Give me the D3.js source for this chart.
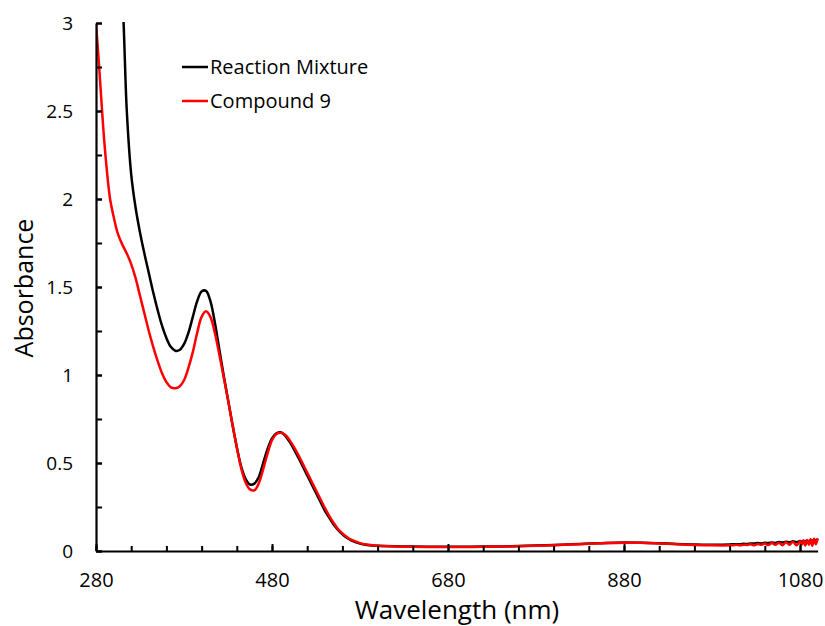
<!DOCTYPE html>
<html>
<head>
<meta charset="utf-8">
<script src="https://cdn.jsdelivr.net/npm/d3@7"></script>
<style>
  html, body { margin: 0; padding: 0; background: #fff; }
  svg { display: block; font-family: "Open Sans", "Noto Sans", sans-serif; }
</style>
</head>
<body>
<svg id="chart" width="825" height="626"></svg>
<script>
// ---------------- data ----------------
const wavelengths = [280, 284, 288, 292, 296, 300, 305, 310, 315, 320, 325, 330, 335, 340, 345, 350, 355, 360, 365, 370,
  375, 380, 385, 390, 395, 400, 405, 410, 415, 420, 425, 430, 435, 440, 445, 450, 455, 460, 465, 470,
  475, 480, 485, 490, 495, 500, 505, 510, 515, 520, 525, 530, 535, 540, 545, 550, 555, 560, 565, 570,
  580, 590, 600, 620, 640, 660, 680, 700, 720, 740, 760, 780, 800, 820, 840, 860, 880, 900, 920, 940,
  960, 980, 1000];

const reactionMixture = [5.2, 4.9, 4.6, 4.3, 4.0, 3.75, 3.45, 3.15, 2.5, 2.14, 1.95, 1.81, 1.69, 1.58, 1.47, 1.37, 1.28, 1.21, 1.16, 1.138,
  1.142, 1.175, 1.24, 1.33, 1.42, 1.475, 1.478, 1.42, 1.3, 1.15, 1.0, 0.86, 0.72, 0.59, 0.48, 0.41, 0.378, 0.383, 0.42, 0.5,
  0.58, 0.64, 0.668, 0.675, 0.655, 0.62, 0.578, 0.53, 0.48, 0.43, 0.38, 0.33, 0.28, 0.23, 0.19, 0.15, 0.12, 0.095, 0.075, 0.06,
  0.042, 0.033, 0.03, 0.027, 0.025, 0.024, 0.024, 0.024, 0.025, 0.026, 0.028, 0.031, 0.034, 0.038, 0.042, 0.046, 0.048, 0.047, 0.044, 0.04,
  0.037, 0.036, 0.037];

const compound9 = [3.0, 2.72, 2.42, 2.18, 2.0, 1.9, 1.8, 1.74, 1.69, 1.63, 1.55, 1.45, 1.35, 1.25, 1.16, 1.08, 1.01, 0.96, 0.93, 0.925,
  0.935, 0.97, 1.04, 1.13, 1.24, 1.33, 1.362, 1.33, 1.24, 1.12, 0.99, 0.86, 0.72, 0.59, 0.47, 0.39, 0.35, 0.345, 0.385, 0.465,
  0.555, 0.63, 0.665, 0.672, 0.66, 0.63, 0.59, 0.545, 0.495, 0.445, 0.395, 0.345, 0.295, 0.245, 0.2, 0.16, 0.125, 0.1, 0.08, 0.064,
  0.045, 0.035, 0.03, 0.026, 0.024, 0.023, 0.023, 0.023, 0.024, 0.025, 0.027, 0.03, 0.033, 0.037, 0.041, 0.045, 0.047, 0.047, 0.043, 0.038,
  0.034, 0.032, 0.032];

const tailWavelengths = [1004, 1008, 1012, 1016, 1020, 1024, 1028, 1032, 1036, 1040, 1044, 1048, 1052, 1056, 1060, 1064, 1068, 1072, 1076, 1080,
  1082, 1084, 1086, 1088, 1090, 1092, 1094, 1096, 1098, 1100];

const reactionTail = [0.038, 0.039, 0.038, 0.041, 0.04, 0.043, 0.042, 0.045, 0.043, 0.047, 0.045, 0.049, 0.046, 0.051, 0.048, 0.053, 0.049, 0.055, 0.05, 0.057,
  0.051, 0.058, 0.052, 0.06, 0.053, 0.062, 0.055, 0.066, 0.056, 0.07];

const compoundTail = [0.033, 0.035, 0.032, 0.036, 0.034, 0.038, 0.033, 0.04, 0.035, 0.042, 0.034, 0.045, 0.036, 0.047, 0.033, 0.05, 0.036, 0.053, 0.032, 0.056,
  0.035, 0.06, 0.031, 0.063, 0.036, 0.067, 0.03, 0.069, 0.038, 0.072];

const xTickLabels = [280, 480, 680, 880, 1080];
const xMinorTicks = d3.range(280, 1100, 40);
const yTickLabels = [0, 0.5, 1, 1.5, 2, 2.5, 3];
const yMinorTicks = d3.range(0, 3.01, 0.25);

const seriesNames = ["Reaction Mixture", "Compound 9"];
const seriesColors = ["#000000", "#ff0000"];

// ---------------- chart ----------------
const svg = d3.select("#chart");
const plotLeft = 96, plotRight = 817.6, plotTop = 23, plotBottom = 551;

const x = d3.scaleLinear().domain([280, 1100]).range([plotLeft, plotRight]);
const y = d3.scaleLinear().domain([0, 3]).range([plotBottom, plotTop]);

svg.append("defs").append("clipPath").attr("id", "plotClip")
  .append("rect").attr("x", plotLeft).attr("y", plotTop - 1)
  .attr("width", plotRight - plotLeft + 2).attr("height", plotBottom - plotTop + 1);

const makeSeries = (vals, tail) =>
  wavelengths.map((w, i) => [w, vals[i]]).concat(tailWavelengths.map((w, i) => [w, tail[i]]));

const series = [makeSeries(reactionMixture, reactionTail), makeSeries(compound9, compoundTail)];

const line = d3.line()
  .x(d => x(d[0]))
  .y(d => y(d[1]))
  .curve(d3.curveCatmullRom.alpha(0.5));

const plot = svg.append("g").attr("clip-path", "url(#plotClip)");
series.forEach((s, i) => {
  plot.append("path")
    .datum(s)
    .attr("fill", "none")
    .attr("stroke", seriesColors[i])
    .attr("stroke-width", 2.5)
    .attr("stroke-linejoin", "round")
    .attr("d", line);
});

// x axis: minor ticks
svg.append("g")
  .attr("transform", `translate(0,${plotBottom})`)
  .call(d3.axisBottom(x).tickValues(xMinorTicks).tickSize(-5).tickSizeOuter(0).tickFormat(""))
  .call(g => g.select(".domain").remove())
  .call(g => g.selectAll(".tick line").attr("stroke", "#000").attr("stroke-width", 2));

// x axis: major ticks with labels
svg.append("g")
  .attr("transform", `translate(0,${plotBottom})`)
  .call(d3.axisBottom(x).tickValues(xTickLabels).tickSize(-7).tickSizeOuter(0).tickPadding(22).tickFormat(d3.format("d")))
  .call(g => g.select(".domain").attr("stroke", "#000").attr("stroke-width", 2.2))
  .call(g => g.selectAll(".tick line").attr("stroke", "#000").attr("stroke-width", 2))
  .call(g => g.selectAll(".tick text").attr("fill", "#000").attr("font-size", 20)
      .attr("font-family", "'Open Sans', 'Noto Sans', sans-serif"));

// y axis: minor ticks
svg.append("g")
  .attr("transform", `translate(${plotLeft},0)`)
  .call(d3.axisLeft(y).tickValues(yMinorTicks).tickSize(-6).tickSizeOuter(0).tickFormat(""))
  .call(g => g.select(".domain").remove())
  .call(g => g.selectAll(".tick line").attr("stroke", "#000").attr("stroke-width", 2));

// y axis: labels
svg.append("g")
  .attr("transform", `translate(${plotLeft},0)`)
  .call(d3.axisLeft(y).tickValues(yTickLabels).tickSize(-6).tickSizeOuter(0).tickPadding(23).tickFormat(d3.format("")))
  .call(g => g.select(".domain").attr("stroke", "#000").attr("stroke-width", 2.2))
  .call(g => g.selectAll(".tick line").attr("stroke", "#000").attr("stroke-width", 2))
  .call(g => g.selectAll(".tick text").attr("fill", "#000").attr("font-size", 19)
      .attr("font-family", "'Open Sans', 'Noto Sans', sans-serif"));

// axis titles
svg.append("text")
  .attr("x", 457).attr("y", 619)
  .attr("text-anchor", "middle")
  .attr("font-size", 26)
  .attr("fill", "#000")
  .text("Wavelength (nm)");

svg.append("text")
  .attr("transform", "translate(33,288) rotate(-90)")
  .attr("text-anchor", "middle")
  .attr("font-size", 25)
  .attr("fill", "#000")
  .text("Absorbance");

// legend
const legend = svg.append("g");
seriesNames.forEach((name, i) => {
  const ly = 67 + i * 34;
  legend.append("line")
    .attr("x1", 182).attr("x2", 208).attr("y1", ly).attr("y2", ly)
    .attr("stroke", seriesColors[i]).attr("stroke-width", 2.5);
  legend.append("text")
    .attr("x", 210).attr("y", ly).attr("dy", "0.36em")
    .attr("font-size", 20).attr("fill", "#000")
    .text(name);
});
</script>
</body>
</html>
